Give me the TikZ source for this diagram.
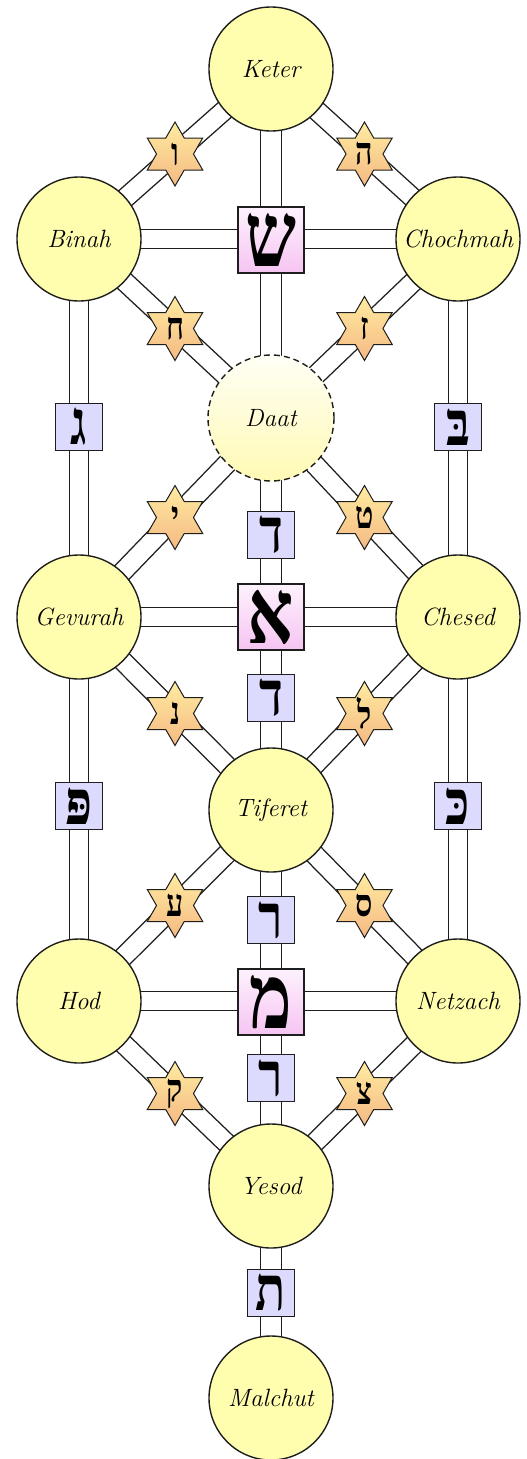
\documentclass[tikz,border=0pt]{standalone}
\usepackage{fontspec}
\newfontfamily\heb[Script=Hebrew,FakeStretch=0.8]{Liberation Serif}
\usetikzlibrary{shapes.geometric,calc,backgrounds}
\definecolor{sefyellow}{HTML}{FFFDAE}
\definecolor{lav}{HTML}{DCDAFD}
\definecolor{pinktop}{HTML}{FDF2FD}
\definecolor{pinkbot}{HTML}{F6C4F2}
\definecolor{startop}{HTML}{FFEBA0}
\definecolor{starbot}{HTML}{F5B983}
\definecolor{daattop}{HTML}{FFFFF6}
\definecolor{daatbot}{HTML}{FFFAB4}
\definecolor{ink}{HTML}{1E1E1E}
\begin{document}
\begin{tikzpicture}[x=1pt,y=-1pt,
  sefira/.style={circle,draw=ink,line width=1.4pt,fill=sefyellow,minimum size=124pt,inner sep=0pt,font=\fontsize{25}{27}\selectfont\itshape},
  daatstyle/.style={circle,draw=ink,line width=1.4pt,dash pattern=on 6pt off 4pt,top color=daattop,bottom color=daatbot,minimum size=126pt,inner sep=0pt,font=\fontsize{25}{27}\selectfont\itshape},
  rail/.style={draw=ink,line width=1.4pt,double=white,double distance=18pt},
  crail/.style={draw=ink,line width=1.4pt,double=white,double distance=20pt},
  bigbox/.style={rectangle,draw=ink,line width=1.1pt,top color=pinktop,bottom color=pinkbot,minimum size=66pt,inner sep=0pt},
  smallbox/.style={rectangle,draw=ink,line width=1.1pt,fill=lav,minimum size=47pt,inner sep=0pt},
  hstar/.style={star,star points=6,star point ratio=1.732,draw=ink,line width=1pt,top color=startop,bottom color=starbot,minimum size=64pt,inner sep=0pt},
  bigletter/.style={font=\heb\bfseries\fontsize{90}{90}\selectfont,inner sep=0pt},
  smallletter/.style={font=\heb\bfseries\fontsize{62}{62}\selectfont,inner sep=0pt},
  starletter/.style={font=\heb\bfseries\fontsize{38}{38}\selectfont,inner sep=0pt}
]
\useasboundingbox (0,0) rectangle (527,1459);
% sefirot
\node[sefira] (keter) at (271,69) {Keter};
\node[sefira] (binah) at (79,239) {Binah};
\node[sefira] (chochmah) at (458,239) {Chochmah};
\node[daatstyle] (daat) at (271,418) {Daat};
\node[sefira] (gevurah) at (79,617) {Gevurah};
\node[sefira] (chesed) at (458,617) {Chesed};
\node[sefira] (tiferet) at (271,810) {Tiferet};
\node[sefira] (hod) at (79,1001) {Hod};
\node[sefira] (netzach) at (458,1001) {Netzach};
\node[sefira] (yesod) at (271,1186) {Yesod};
\node[sefira] (malchut) at (271,1398) {Malchut};
% boxes
\node[bigbox,label={[bigletter]center:ש}] (shin) at (271,240) {};
\node[bigbox,label={[bigletter]center:א}] (aleph) at (271,617) {};
\node[bigbox,label={[bigletter]center:מ}] (mem) at (271,1002) {};
\node[smallbox,label={[smallletter]center:ד}] (dalet1) at (271,535) {};
\node[smallbox,label={[smallletter]center:ד}] (dalet2) at (271,698) {};
\node[smallbox,label={[smallletter]center:ר}] (resh1) at (271,920) {};
\node[smallbox,label={[smallletter]center:ר}] (resh2) at (271,1078) {};
\node[smallbox,label={[smallletter]center:ת}] (tav) at (271,1293) {};
\node[smallbox,label={[smallletter]center:ג}] (gimel) at (79,427) {};
\node[smallbox,label={[smallletter]center:בּ}] (bet) at (458,427) {};
\node[smallbox,label={[smallletter]center:פּ}] (pe) at (79,806) {};
\node[smallbox,label={[smallletter]center:כּ}] (kaf) at (458,806) {};
% stars
\node[hstar,label={[starletter]center:ו}] (s1) at ($(keter)!0.5!(binah)$) {};
\node[hstar,label={[starletter]center:ה}] (s2) at ($(keter)!0.5!(chochmah)$) {};
\node[hstar,label={[starletter]center:ח}] (s3) at ($(binah)!0.5!(daat)$) {};
\node[hstar,label={[starletter]center:ז}] (s4) at ($(chochmah)!0.5!(daat)$) {};
\node[hstar,label={[starletter]center:י}] (s5) at ($(daat)!0.5!(gevurah)$) {};
\node[hstar,label={[starletter]center:ט}] (s6) at ($(daat)!0.5!(chesed)$) {};
\node[hstar,label={[starletter]center:נ}] (s7) at ($(gevurah)!0.5!(tiferet)$) {};
\node[hstar,label={[starletter]center:ל}] (s8) at ($(chesed)!0.5!(tiferet)$) {};
\node[hstar,label={[starletter]center:ע}] (s9) at ($(tiferet)!0.5!(hod)$) {};
\node[hstar,label={[starletter]center:ס}] (s10) at ($(tiferet)!0.5!(netzach)$) {};
\node[hstar,label={[starletter]center:ק}] (s11) at ($(hod)!0.5!(yesod)$) {};
\node[hstar,label={[starletter]center:צ}] (s12) at ($(netzach)!0.5!(yesod)$) {};
\begin{scope}[on background layer]
\fill[white] (0,0) rectangle (527,1459);
% central pillar
\draw[crail] (keter.center) -- (daat.center);
\draw[crail] (daat.center) -- (tiferet.center);
\draw[crail] (tiferet.center) -- (yesod.center);
\draw[crail] (yesod.center) -- (malchut.center);
% horizontals
\draw[rail] (binah.center) -- (chochmah.center);
\draw[rail] (gevurah.center) -- (chesed.center);
\draw[rail] (hod.center) -- (netzach.center);
% side pillars
\draw[rail] (binah.center) -- (gevurah.center);
\draw[rail] (gevurah.center) -- (hod.center);
\draw[rail] (chochmah.center) -- (chesed.center);
\draw[rail] (chesed.center) -- (netzach.center);
% diagonals
\draw[rail] (keter.center) -- (binah.center);
\draw[rail] (keter.center) -- (chochmah.center);
\draw[rail] (binah.center) -- (daat.center);
\draw[rail] (chochmah.center) -- (daat.center);
\draw[rail] (daat.center) -- (gevurah.center);
\draw[rail] (daat.center) -- (chesed.center);
\draw[rail] (gevurah.center) -- (tiferet.center);
\draw[rail] (chesed.center) -- (tiferet.center);
\draw[rail] (tiferet.center) -- (hod.center);
\draw[rail] (tiferet.center) -- (netzach.center);
\draw[rail] (hod.center) -- (yesod.center);
\draw[rail] (netzach.center) -- (yesod.center);
\end{scope}
\end{tikzpicture}
\end{document}
